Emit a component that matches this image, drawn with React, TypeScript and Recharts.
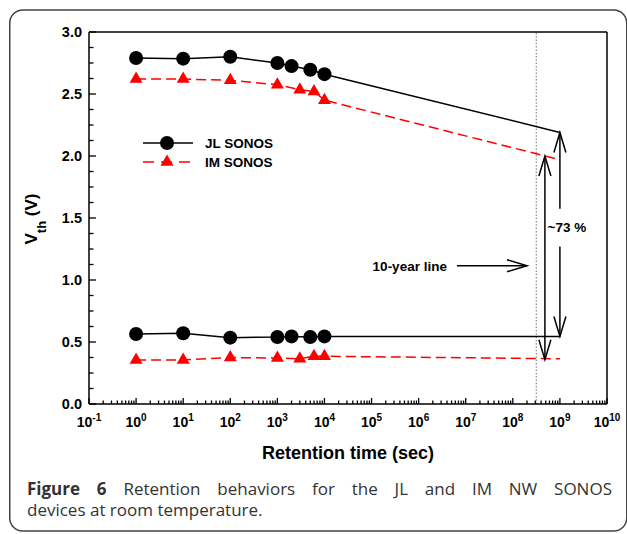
import React from 'react';
import { LineChart, Line, XAxis, YAxis, ReferenceLine } from 'recharts';

// ---- data ----
const jlTimes = [1, 10, 100, 1000, 2000, 5000, 10000];
const jlProgram = [2.79, 2.785, 2.8, 2.75, 2.725, 2.695, 2.66];
const jlErase = [0.565, 0.57, 0.535, 0.54, 0.545, 0.54, 0.545];
const imTimes = [1, 10, 100, 1000, 3000, 6000, 10000];
const imProgram = [2.62, 2.62, 2.61, 2.575, 2.535, 2.52, 2.45];
const imErase = [0.355, 0.355, 0.375, 0.37, 0.365, 0.385, 0.385];

// extrapolation to 10^9 s
const extrapTime = 1e9;
const jlProgramExtrap = 2.19;
const imProgramExtrap = 1.97;
const jlEraseExtrap = 0.545;
const imEraseExtrap = 0.365;

// annotations
const tenYearTime = 3.15e8;
const tenYearArrowFrom = 6.5e6;
const tenYearArrowTo = 2e8;
const tenYearArrowV = 1.115;
const windowArrowImTime = 4.8e8;
const windowArrowImTop = 2.0;
const windowArrowImBottom = 0.357;
const windowArrowJlTopEnd = 1.574;
const windowArrowJlBottomStart = 1.27;

// axes / ticks
const xExponents = [-1, 0, 1, 2, 3, 4, 5, 6, 7, 8, 9, 10];
const minorMultipliers = [2, 3, 4, 5, 6, 7, 8, 9];
const yMajorTicks = [0, 0.5, 1.0, 1.5, 2.0, 2.5, 3.0];
const yMinorStep = 0.125;

const xTicks: number[] = [];
xExponents.forEach((e, i) => {
  xTicks.push(Math.pow(10, e));
  if (i < xExponents.length - 1) minorMultipliers.forEach((m) => xTicks.push(m * Math.pow(10, e)));
});
const yTicks: number[] = [];
for (let i = 0; i <= Math.round(yMajorTicks[yMajorTicks.length - 1] / yMinorStep); i++) yTicks.push(+(i * yMinorStep).toFixed(4));

const build = (times: number[], vals: number[], extrap: number) => [
  ...times.map((t, i) => ({ t, v: vals[i], m: true })),
  { t: extrapTime, v: extrap, m: false },
];
const jlProgData = build(jlTimes, jlProgram, jlProgramExtrap);
const jlEraseData = build(jlTimes, jlErase, jlEraseExtrap);
const imProgData = build(imTimes, imProgram, imProgramExtrap);
const imEraseData = build(imTimes, imErase, imEraseExtrap);

const AX = '"Liberation Sans", Arial, sans-serif';
const CAP = '"Open Sans", "Noto Sans", sans-serif';
const RED = '#ff0000';

const triPoints = (cx: number, cy: number, s = 13) => {
  const h = (s * Math.sqrt(3)) / 2;
  return `${cx},${cy - (2 * h) / 3} ${cx - s / 2},${cy + h / 3} ${cx + s / 2},${cy + h / 3}`;
};

const CircleDot = (p: any) =>
  p.payload && p.payload.m ? (
    <circle key={`c${p.index}`} cx={p.cx} cy={p.cy} r={7} fill="#000" />
  ) : (
    <g key={`c${p.index}`} />
  );
const TriDot = (p: any) =>
  p.payload && p.payload.m ? (
    <polygon key={`t${p.index}`} points={triPoints(p.cx, p.cy)} fill={RED} />
  ) : (
    <g key={`t${p.index}`} />
  );

const isDecade = (v: number) => Math.abs(Math.log10(v) - Math.round(Math.log10(v))) < 1e-9;

const XTick = (p: any) => {
  const v = p.payload.value;
  const major = isDecade(v);
  const x = p.x;
  const y = p.y;
  return (
    <g>
      <line x1={x} x2={x} y1={y} y2={y - (major ? 6 : 3.5)} stroke="#000" strokeWidth={1.3} />
      {major && (
        <text x={x} y={y + 23} textAnchor="middle" fontFamily={AX} fontWeight="bold" fontSize={14} fill="#000">
          10
          <tspan dy={-6} fontSize={10}>
            {Math.round(Math.log10(v))}
          </tspan>
        </text>
      )}
    </g>
  );
};

const YTick = (p: any) => {
  const v = p.payload.value;
  const major = yMajorTicks.some((m) => Math.abs(m - v) < 1e-9);
  const x = p.x;
  const y = p.y;
  return (
    <g>
      <line x1={x} x2={x + (major ? 7 : 4.5)} y1={y} y2={y} stroke="#000" strokeWidth={1.3} />
      {major && (
        <text x={x - 7} y={y + 5} textAnchor="end" fontFamily={AX} fontWeight="bold" fontSize={14.5} fill="#000">
          {v.toFixed(1)}
        </text>
      )}
    </g>
  );
};

const head = (tx: number, ty: number, fx: number, fy: number, L = 20, W = 6) => {
  const dx = tx - fx;
  const dy = ty - fy;
  const len = Math.hypot(dx, dy) || 1;
  const ux = dx / len;
  const uy = dy / len;
  const nx = -uy;
  const ny = ux;
  const bx = tx - ux * L;
  const by = ty - uy * L;
  return `M${bx + nx * W},${by + ny * W} L${tx},${ty} L${bx - nx * W},${by - ny * W}`;
};

const arrowShape =
  (startHead: boolean, endHead: boolean, label?: string, labelPos?: 'start' | 'end73') =>
  (p: any) => {
    const { x1, y1, x2, y2 } = p;
    if ([x1, y1, x2, y2].some((n) => typeof n !== 'number' || isNaN(n))) return <g />;
    return (
      <g>
        <line x1={x1} y1={y1} x2={x2} y2={y2} stroke="#000" strokeWidth={1.5} />
        {startHead && <path d={head(x1, y1, x2, y2)} fill="none" stroke="#000" strokeWidth={1.5} />}
        {endHead && <path d={head(x2, y2, x1, y1)} fill="none" stroke="#000" strokeWidth={1.5} />}
        {label && labelPos === 'start' && (
          <text x={x1 - 10} y={y1 + 5} textAnchor="end" fontFamily={AX} fontWeight="bold" fontSize={13.5} fill="#000">
            {label}
          </text>
        )}
        {label && labelPos === 'end73' && (
          <text x={x2 + 7} y={y2 + 23} textAnchor="middle" fontFamily={AX} fontWeight="bold" fontSize={13.5} fill="#000">
            {label}
          </text>
        )}
      </g>
    );
  };

export default function App() {
  return (
    <div style={{ position: 'absolute', left: 0, top: 0, width: 627, height: 534, background: '#fff' }}>
      <LineChart width={627} height={534} margin={{ top: 32, right: 20, bottom: 100, left: 0 }}>
        <XAxis
          dataKey="t"
          type="number"
          scale="log"
          domain={[0.1, 1e10]}
          allowDataOverflow
          ticks={xTicks}
          interval={0}
          tickSize={0}
          tickMargin={0}
          tickLine={false}
          tick={XTick}
          height={30}
          axisLine={{ stroke: '#000', strokeWidth: 1.5 }}
        />
        <YAxis
          type="number"
          domain={[0, 3]}
          allowDataOverflow
          ticks={yTicks}
          interval={0}
          tickSize={0}
          tickMargin={0}
          tickLine={false}
          tick={YTick}
          width={89}
          axisLine={{ stroke: '#000', strokeWidth: 1.5 }}
        />
        <ReferenceLine y={3} stroke="#000" strokeWidth={1.5} />
        <ReferenceLine x={1e10} stroke="#000" strokeWidth={1.5} />
        <ReferenceLine x={tenYearTime} stroke="#888" strokeWidth={1.2} strokeDasharray="1.5 1.8" />

        <Line data={imProgData} dataKey="v" type="linear" stroke={RED} strokeWidth={1.5} strokeDasharray="10 5" dot={TriDot} activeDot={false} isAnimationActive={false} />
        <Line data={imEraseData} dataKey="v" type="linear" stroke={RED} strokeWidth={1.5} strokeDasharray="10 5" dot={TriDot} activeDot={false} isAnimationActive={false} />
        <Line data={jlProgData} dataKey="v" type="linear" stroke="#000" strokeWidth={1.5} dot={CircleDot} activeDot={false} isAnimationActive={false} />
        <Line data={jlEraseData} dataKey="v" type="linear" stroke="#000" strokeWidth={1.5} dot={CircleDot} activeDot={false} isAnimationActive={false} />

        <ReferenceLine
          segment={[
            { x: tenYearArrowFrom, y: tenYearArrowV },
            { x: tenYearArrowTo, y: tenYearArrowV },
          ]}
          shape={arrowShape(false, true, '10-year line', 'start')}
        />
        <ReferenceLine
          segment={[
            { x: windowArrowImTime, y: windowArrowImTop },
            { x: windowArrowImTime, y: windowArrowImBottom },
          ]}
          shape={arrowShape(true, true)}
        />
        <ReferenceLine
          segment={[
            { x: extrapTime, y: jlProgramExtrap },
            { x: extrapTime, y: windowArrowJlTopEnd },
          ]}
          shape={arrowShape(true, false, '~73 %', 'end73')}
        />
        <ReferenceLine
          segment={[
            { x: extrapTime, y: windowArrowJlBottomStart },
            { x: extrapTime, y: jlEraseExtrap },
          ]}
          shape={arrowShape(false, true)}
        />
      </LineChart>

      <svg width={627} height={534} style={{ position: 'absolute', left: 0, top: 0, pointerEvents: 'none' }}>
        <rect x={9.75} y={10} width={617} height={521} rx={13} ry={13} fill="none" stroke="#444" strokeWidth={1.5} />
        {/* legend */}
        <line x1={143} x2={193} y1={143} y2={143} stroke="#000" strokeWidth={1.5} />
        <circle cx={167} cy={143} r={7} fill="#000" />
        <text x={205} y={148} fontFamily={AX} fontWeight="bold" fontSize={13.5} fill="#000">JL SONOS</text>
        <line x1={143} x2={191} y1={162} y2={162} stroke={RED} strokeWidth={1.5} strokeDasharray="11 7" />
        <polygon points={triPoints(167, 162)} fill={RED} />
        <text x={205} y={167} fontFamily={AX} fontWeight="bold" fontSize={13.5} fill="#000">IM SONOS</text>
        {/* axis titles */}
        <text x={348} y={459} textAnchor="middle" fontFamily={AX} fontWeight="bold" fontSize={18} fill="#000">
          Retention time (sec)
        </text>
        <text transform="translate(37,219) rotate(-90)" textAnchor="middle" fontFamily={AX} fontWeight="bold" fontSize={17} fill="#000">
          V<tspan fontSize={13} dy={9}>th</tspan>
          <tspan dy={-9}> (V)</tspan>
        </text>
        {/* caption (justified first line) */}
        <text x={27} y={495} fontFamily={CAP} fontSize={17} fill="#333" style={{ wordSpacing: '12.4px' }}>
          <tspan fontWeight="bold">Figure 6</tspan> Retention behaviors for the JL and IM NW SONOS
        </text>
        <text x={27} y={516} fontFamily={CAP} fontSize={17} fill="#333">
          devices at room temperature.
        </text>
      </svg>
    </div>
  );
}
